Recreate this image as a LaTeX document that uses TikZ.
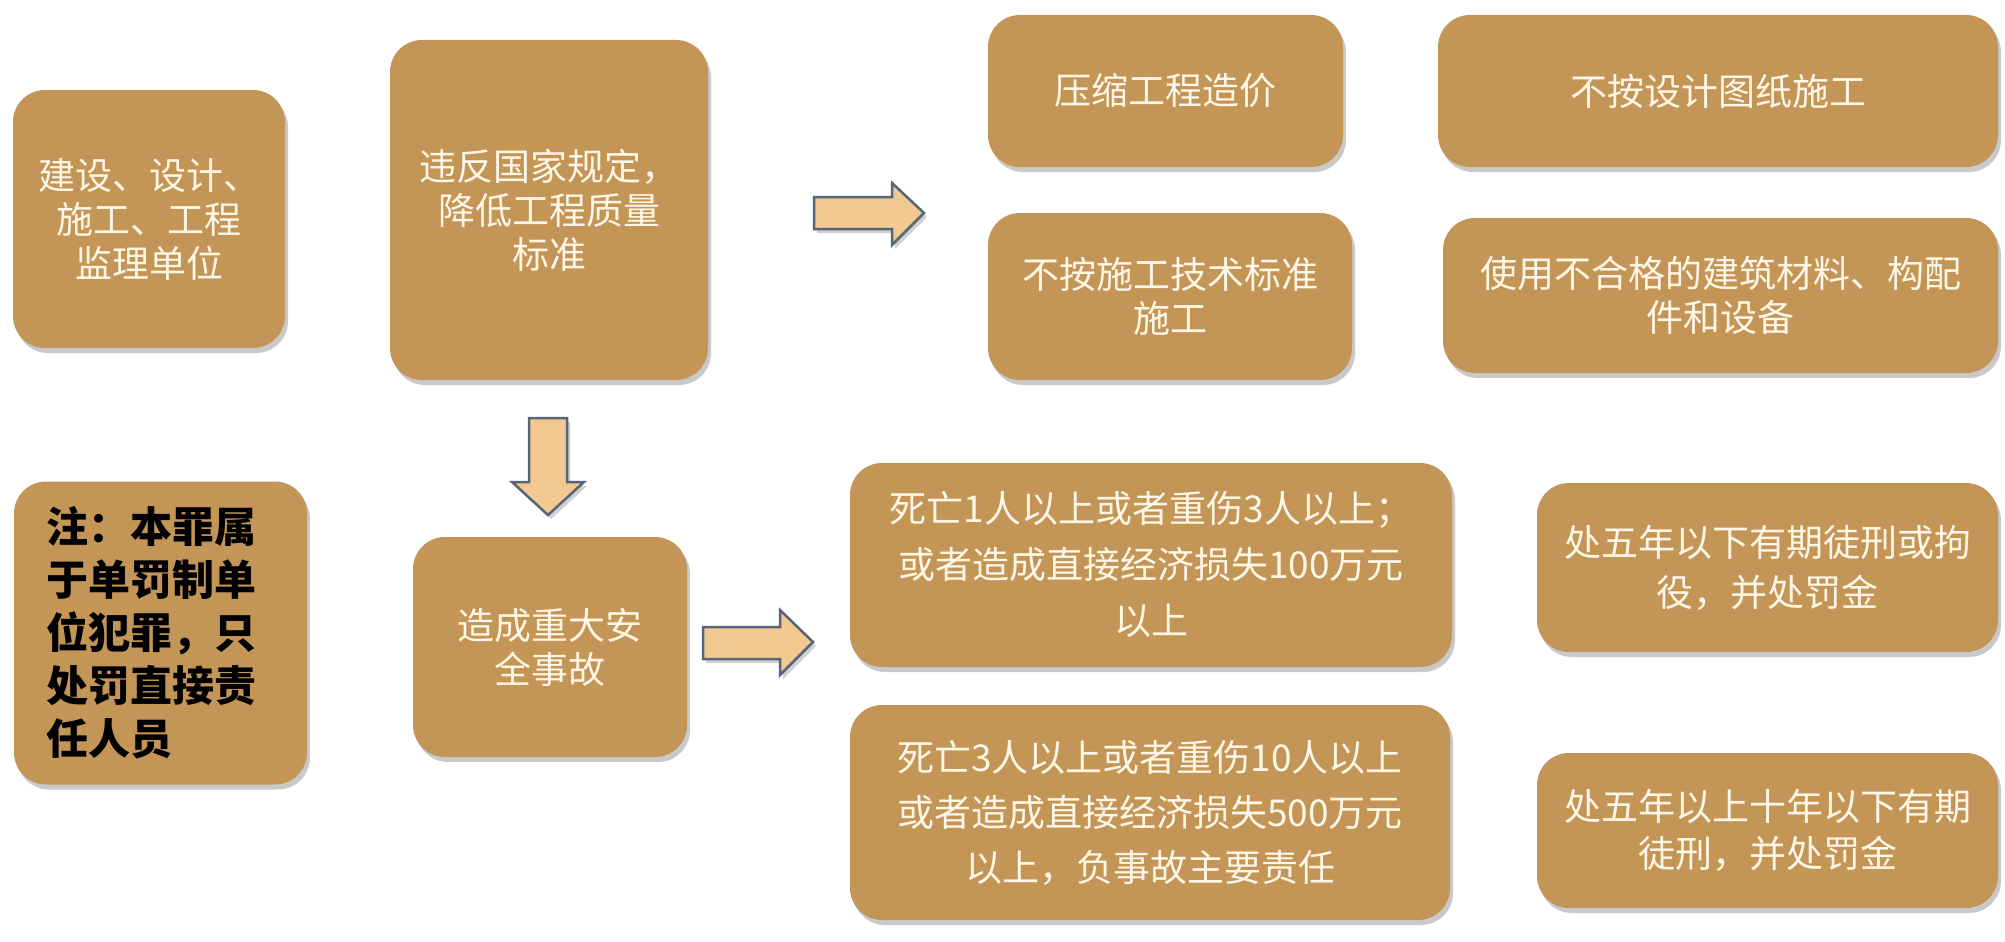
\documentclass[tikz,border=0pt]{standalone}
\usepackage{fontspec}
\newfontfamily\cjk{Noto Sans CJK SC}
\usetikzlibrary{shadows}
\definecolor{boxfill}{RGB}{195,149,86}
\definecolor{boxtext}{RGB}{255,246,230}
\definecolor{arrfill}{RGB}{242,201,145}
\definecolor{arrline}{RGB}{86,101,122}
\tikzset{
  box/.style={rounded corners=32pt, fill=boxfill, draw=none, text=boxtext,
    align=center, inner sep=0pt,
    font=\cjk\fontsize{37}{44}\selectfont,
    drop shadow={shadow xshift=3pt, shadow yshift=-5pt, opacity=0.35, fill=black!60}},
  blockarrow/.style={fill=arrfill, draw=arrline, line width=2.5pt, line join=miter,
    drop shadow={shadow xshift=3pt, shadow yshift=-4pt, opacity=0.3, fill=black!60}}
}
\begin{document}
\begin{tikzpicture}[x=1pt,y=-1pt]
\useasboundingbox[fill=white] (0,0) rectangle (2005,942);
% left column
\node[box, minimum width=272pt, minimum height=258pt] (a) at (149,219) {建设、设计、\\施工、工程\\监理单位};
\node[box, minimum width=293pt, minimum height=303pt, text=black, align=left, text width=228pt,
      font=\cjk\bfseries\fontsize{42}{53}\selectfont] (h) at (160.5,633) {注：本罪属\\于单罚制单\\位犯罪，只\\处罚直接责\\任人员};
% middle column
\node[box, minimum width=318pt, minimum height=340pt] (b) at (549,210) {违反国家规定，\\降低工程质量\\标准};
\node[box, minimum width=274pt, minimum height=220pt] (g) at (550,647) {造成重大安\\全事故};
% top right
\node[box, minimum width=355pt, minimum height=152pt] (c) at (1165.5,91) {压缩工程造价};
\node[box, minimum width=560pt, minimum height=152pt] (d) at (1718,91) {不按设计图纸施工};
\node[box, minimum width=364pt, minimum height=167pt] (e) at (1170,296.5) {不按施工技术标准\\施工};
\node[box, minimum width=555pt, minimum height=155pt] (f) at (1720.5,295.5) {使用不合格的建筑材料、构配\\件和设备};
% bottom right
\node[box, minimum width=602pt, minimum height=204pt, font=\cjk\fontsize{37}{56}\selectfont] (i) at (1151,565) {死亡1人以上或者重伤3人以上；\\或者造成直接经济损失100万元\\以上};
\node[box, minimum width=600pt, minimum height=215pt, font=\cjk\fontsize{37}{55}\selectfont] (j) at (1150,812.5) {死亡3人以上或者重伤10人以上\\或者造成直接经济损失500万元\\以上，负事故主要责任};
\node[box, minimum width=461pt, minimum height=169pt, font=\cjk\fontsize{37}{50}\selectfont] (k) at (1767.5,567.5) {处五年以下有期徒刑或拘\\役，并处罚金};
\node[box, minimum width=461pt, minimum height=155pt, font=\cjk\fontsize{37}{47}\selectfont] (l) at (1767.5,830.5) {处五年以上十年以下有期\\徒刑，并处罚金};
% block arrows
\draw[blockarrow] (814,197) -- (892,197) -- (892,183) -- (924,213) -- (892,245) -- (892,229) -- (814,229) -- cycle;
\draw[blockarrow] (529,418) -- (567,418) -- (567,482) -- (584,482) -- (548,515) -- (512,482) -- (529,482) -- cycle;
\draw[blockarrow] (703,627) -- (780,627) -- (780,610) -- (813,642) -- (780,675) -- (780,659) -- (703,659) -- cycle;
\end{tikzpicture}
\end{document}
